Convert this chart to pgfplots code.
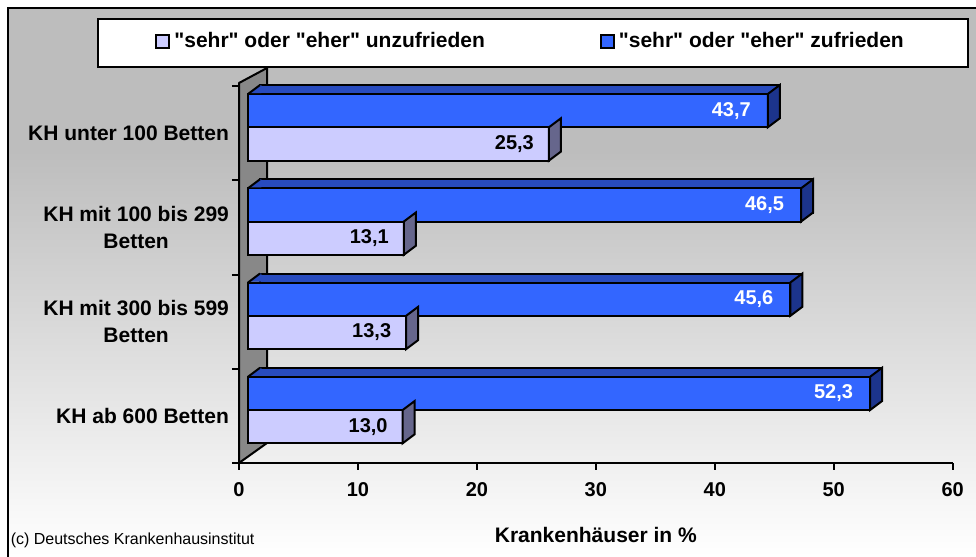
\documentclass[border=0pt]{standalone}
\usepackage{fontspec}
\setmainfont{Liberation Sans}[Ligatures=TeXOff]
\usepackage{pgfplots}
\pgfplotsset{compat=1.18}

\definecolor{bggray}{RGB}{189,189,189}
\definecolor{wallgray}{RGB}{136,136,136}
\definecolor{lav}{RGB}{204,204,255}
\definecolor{lavside}{RGB}{102,102,140}
\definecolor{bfront}{RGB}{51,102,255}
\definecolor{btop}{RGB}{40,75,190}
\definecolor{bside}{RGB}{28,52,140}

\pgfdeclareverticalshading{bgshade}{100bp}{color(0bp)=(white); color(25bp)=(white); color(62bp)=(bggray); color(100bp)=(bggray)}

% right face of the light bars
\pgfdeclareplotmark{lavside}{%
  \pgfpathmoveto{\pgfpoint{0pt}{-13.71pt}}%
  \pgfpathlineto{\pgfpoint{0pt}{2.92pt}}%
  \pgfpathlineto{\pgfpoint{6pt}{7.42pt}}%
  \pgfpathlineto{\pgfpoint{6pt}{-9.21pt}}%
  \pgfpathclose
  \pgfusepathqfillstroke
}
% right face of the blue bars
\pgfdeclareplotmark{blueside}{%
  \pgfpathmoveto{\pgfpoint{0pt}{2.92pt}}%
  \pgfpathlineto{\pgfpoint{0pt}{19.56pt}}%
  \pgfpathlineto{\pgfpoint{6pt}{24.06pt}}%
  \pgfpathlineto{\pgfpoint{6pt}{7.42pt}}%
  \pgfpathclose
  \pgfusepathqfillstroke
}
% bevel at the left end of the blue top face
\pgfdeclareplotmark{bluecorner}{%
  \pgfpathmoveto{\pgfpoint{0pt}{19.56pt}}%
  \pgfpathlineto{\pgfpoint{6pt}{24.06pt}}%
  \pgfpathlineto{\pgfpoint{6.7pt}{24.06pt}}%
  \pgfpathlineto{\pgfpoint{6.7pt}{20.06pt}}%
  \pgfpathlineto{\pgfpoint{0.7pt}{20.06pt}}%
  \pgfpathclose
  \pgfusepathqfill
  \pgfpathmoveto{\pgfpoint{0pt}{19.56pt}}%
  \pgfpathlineto{\pgfpoint{6pt}{24.06pt}}%
  \pgfusepathqstroke
}

\begin{document}
\begin{tikzpicture}
% chart area with gradient
\shade[shading=bgshade] (4pt,0pt) rectangle (488pt,274.5pt);
\draw[line width=1pt] (4pt,0pt) -- (4pt,274.5pt) -- (488pt,274.5pt);
% legend frame
\draw[fill=white, line width=1pt] (49pt,245.15pt) rectangle (484pt,268.85pt);
% side wall
\draw[fill=wallgray, line width=1pt, line join=round]
  (119.5pt,47pt) -- (119.5pt,237pt) -- (133.5pt,244.5pt) -- (133.5pt,57pt) -- cycle;

\begin{axis}[
    at={(119.5pt,47pt)}, anchor=south west,
    width=356.85pt, height=188.5pt, scale only axis,
    xmin=0, xmax=60, ymin=0, ymax=4,
    clip=false,
    axis lines*=left,
    axis line style={line width=1pt, black},
    tick align=outside,
    major tick length=3.5pt,
    tick style={line width=1pt, black},
    xtick={0,10,20,30,40,50,60},
    ytick={0,1,2,3,4},
    yticklabels={,,,,},
    extra y ticks={0.5,1.5,2.5,3.5},
    extra y tick labels={KH ab 600 Betten, {KH mit 300 bis 599\\Betten}, {KH mit 100 bis 299\\Betten}, KH unter 100 Betten},
    extra y tick style={major tick length=0pt},
    yticklabel style={align=center, xshift=-1.5pt, font=\bfseries\fontsize{10.5}{13.7}\selectfont},
    xticklabel style={yshift=-2.8pt, font=\bfseries\fontsize{10}{12}\selectfont},
    /pgf/number format/assume math mode=true,
    xlabel={Krankenhäuser in \%},
    xlabel style={at={(axis description cs:0.5,0)}, anchor=center, yshift=-36pt,
        font=\bfseries\fontsize{10.5}{12}\selectfont},
    legend columns=2,
    legend style={at={(-0.1177,1.1175)}, anchor=west, draw=none, fill=none,
        inner sep=0pt, font=\bfseries\fontsize{10.5}{12}\selectfont,
        /tikz/every odd column/.append style={column sep=0pt},
        /tikz/every even column/.append style={column sep=55.5pt}},
]
% "sehr" oder "eher" unzufrieden
\addplot[xbar, forget plot, bar width=0.353, bar shift=-0.1145, xshift=4.5pt,
    fill=lav, draw=black, line width=1pt,
    point meta=x,
    nodes near coords={\pgfmathprintnumber[fixed,fixed zerofill,precision=1,use comma]{\pgfplotspointmeta}},
    every node near coord/.append style={anchor=east, xshift=-3.7pt, yshift=-5.4pt, text=black,
        font=\bfseries\fontsize{10}{12}\selectfont}]
    coordinates {(13.0,0.5) (13.3,1.5) (13.1,2.5) (25.3,3.5)};
\addplot[only marks, forget plot, mark=lavside, xshift=4.5pt,
    mark options={fill=lavside, draw=black, line width=1pt}]
    coordinates {(13.0,0.5) (13.3,1.5) (13.1,2.5) (25.3,3.5)};
% "sehr" oder "eher" zufrieden: top face, front face, side face
\addplot[xbar, forget plot, bar width=0.353, bar shift=0.2385, xshift=10.5pt, yshift=4.5pt,
    fill=btop, draw=black, line width=1pt]
    coordinates {(52.3,0.5) (45.6,1.5) (46.5,2.5) (43.7,3.5)};
\addplot[xbar, forget plot, bar width=0.353, bar shift=0.2385, xshift=4.5pt,
    fill=bfront, draw=black, line width=1pt,
    point meta=x,
    nodes near coords={\pgfmathprintnumber[fixed,fixed zerofill,precision=1,use comma]{\pgfplotspointmeta}},
    every node near coord/.append style={anchor=east, xshift=-4.7pt, yshift=11.24pt, text=white,
        font=\bfseries\fontsize{10}{12}\selectfont}]
    coordinates {(52.3,0.5) (45.6,1.5) (46.5,2.5) (43.7,3.5)};
\addplot[only marks, forget plot, mark=blueside, xshift=4.5pt,
    mark options={fill=bside, draw=black, line width=1pt}]
    coordinates {(52.3,0.5) (45.6,1.5) (46.5,2.5) (43.7,3.5)};
\addplot[only marks, forget plot, mark=bluecorner, xshift=4.5pt,
    mark options={fill=btop, draw=black, line width=1pt}]
    coordinates {(0,0.5) (0,1.5) (0,2.5) (0,3.5)};

\addlegendimage{legend image code/.code={\draw[fill=lav, draw=black, line width=1pt] (0pt,-3.25pt) rectangle (6.5pt,3.25pt);}}
\addlegendentry{"sehr" oder "eher" unzufrieden}
\addlegendimage{legend image code/.code={\draw[fill=bfront, draw=black, line width=1pt] (0pt,-3.25pt) rectangle (6.5pt,3.25pt);}}
\addlegendentry{"sehr" oder "eher" zufrieden}
\end{axis}

\node[anchor=west, inner sep=0pt, font=\fontsize{8}{9.6}\selectfont] at (5.2pt,8.5pt) {(c) Deutsches Krankenhausinstitut};

\pgfresetboundingbox
\useasboundingbox (0pt,0pt) rectangle (488pt,278.5pt);
\end{tikzpicture}
\end{document}
